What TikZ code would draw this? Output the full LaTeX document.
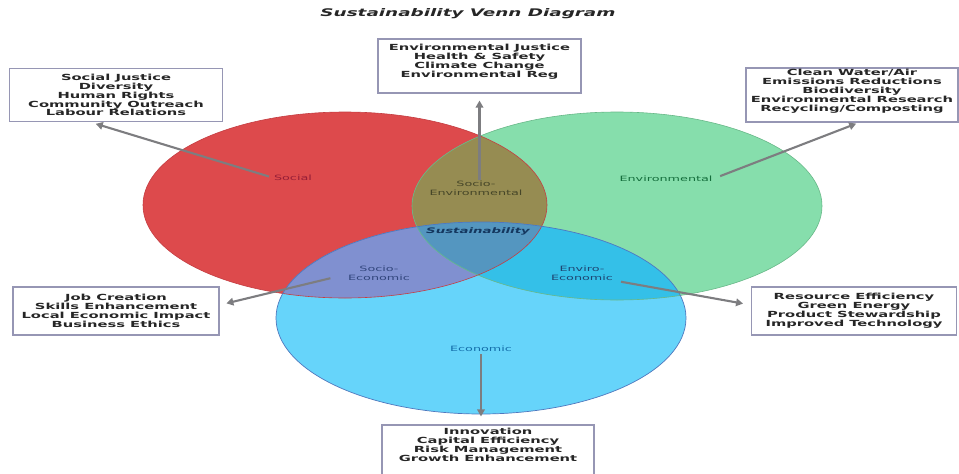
\documentclass[tikz,border=0pt]{standalone}
\usepackage{fontspec}
\setmainfont{DejaVu Sans}[FakeStretch=1.75]
\usetikzlibrary{arrows.meta}
\definecolor{cR}{RGB}{221,74,76}
\definecolor{cG}{RGB}{134,222,172}
\definecolor{cB}{RGB}{102,212,250}
\definecolor{cRG}{RGB}{150,140,82}
\definecolor{cRB}{RGB}{128,144,208}
\definecolor{cGB}{RGB}{52,192,232}
\definecolor{cRGB}{RGB}{84,150,192}
\definecolor{oR}{RGB}{196,62,66}
\definecolor{oG}{RGB}{104,184,136}
\definecolor{oB}{RGB}{80,120,190}
\definecolor{boxline}{RGB}{150,150,180}
\definecolor{arrowgray}{RGB}{125,125,128}
\definecolor{tSocial}{RGB}{150,30,55}
\definecolor{tSocEnv}{RGB}{70,70,40}
\definecolor{tEnv}{RGB}{20,110,60}
\definecolor{tSust}{RGB}{20,55,95}
\definecolor{tSocEco}{RGB}{50,70,125}
\definecolor{tEnvEco}{RGB}{30,70,115}
\definecolor{tEco}{RGB}{20,110,170}
\def\pathR{(345,205) ellipse [x radius=202pt, y radius=93pt]}
\def\pathG{(617,206) ellipse [x radius=205pt, y radius=94pt]}
\def\pathB{(481,318) ellipse [x radius=205pt, y radius=96pt]}
\begin{document}
\begin{tikzpicture}[x=1pt,y=-1pt,
  infobox/.style={draw=boxline, line width=1.1pt, fill=white, inner sep=0pt},
  infotext/.style={align=center, inner sep=0pt, font=\bfseries\fontsize{8.4}{8.9}\selectfont, text=black!85},
  vlabel/.style={align=center, inner sep=0pt, font=\fontsize{7.3}{8.6}\selectfont},
  arr/.style={draw=arrowgray, line width=2.1pt, -{Triangle[length=7pt,width=7.5pt]}}]
\useasboundingbox (0,0) rectangle (959,474);
% fills
\fill[cR] \pathR;
\fill[cG] \pathG;
\fill[cB] \pathB;
\begin{scope}\clip \pathR; \fill[cRG] \pathG; \fill[cRB] \pathB; \end{scope}
\begin{scope}\clip \pathG; \fill[cGB] \pathB; \end{scope}
\begin{scope}\clip \pathR; \clip \pathG; \fill[cRGB] \pathB; \end{scope}
\draw[oR, line width=0.6pt] \pathR;
\draw[oG, line width=0.6pt] \pathG;
\draw[oB, line width=0.7pt] \pathB;
% title
\node[inner sep=0pt, font=\bfseries\itshape\fontsize{10.5}{12}\selectfont, text=black!85] (title) at (468,14) {Sustainability Venn Diagram};
% labels
\node[vlabel, text=tSocial] (lsocial) at (293,178) {Social};
\node[vlabel, text=tSocEnv] (lsocenv) at (476,188) {Socio-\\Environmental};
\node[vlabel, text=tEnv] (lenv) at (666,179) {Environmental};
\node[vlabel, text=tSust, font=\bfseries\itshape\fontsize{7.6}{8.6}\selectfont] (lsust) at (478,231) {Sustainability};
\node[vlabel, text=tSocEco] (lsocecon) at (379,273) {Socio-\\Economic};
\node[vlabel, text=tEnvEco] (lenveco) at (582,273) {Enviro-\\Economic};
\node[vlabel, text=tEco] (lecon) at (481,349) {Economic};
% boxes
\node[infobox, minimum width=213pt, minimum height=53pt] (bsocial) at (116,95) {};
\node[infotext] (tsocial) at (116,95) {Social Justice\\Diversity\\Human Rights\\Community Outreach\\Labour Relations};
\node[infobox, minimum width=203pt, minimum height=54pt] (benv) at (479.5,66) {};
\node[infotext] (tenv) at (479.5,62) {Environmental Justice\\Health \& Safety\\Climate Change\\Environmental Reg};
\node[infobox, minimum width=212pt, minimum height=54pt] (bclean) at (852,95) {};
\node[infotext] (tclean) at (852,91) {Clean Water/Air\\Emissions Reductions\\Biodiversity\\Environmental Research\\Recycling/Composting};
\node[infobox, minimum width=206pt, minimum height=48pt] (bjob) at (116,311) {};
\node[infotext] (tjob) at (116,311) {Job Creation\\Skills Enhancement\\Local Economic Impact\\Business Ethics};
\node[infobox, minimum width=205pt, minimum height=48pt] (bres) at (854,311) {};
\node[infotext] (tres) at (854,311) {Resource Efficiency\\Green Energy\\Product Stewardship\\Improved Technology};
\node[infobox, minimum width=212pt, minimum height=60pt] (binno) at (488,455) {};
\node[infotext] (tinno) at (488,445) {Innovation\\Capital Efficiency\\Risk Management\\Growth Enhancement};
% arrows
\draw[arr, shorten <=5pt, shorten >=6pt] (lsocial.west) -- ([xshift=-26pt]bsocial.south);
\draw[arr, shorten <=1pt, shorten >=7pt] (benv.south |- lsocenv.north) -- (benv.south);
\draw[arr, shorten <=8pt, shorten >=3pt] (lenv.east) -- ([xshift=7pt]bclean.south);
\draw[arr, shorten <=18pt, shorten >=7pt] ([yshift=-1pt]lsocecon.west) -- ([yshift=6pt]bjob.east);
\draw[arr, shorten <=8pt, shorten >=8pt] (lenveco.south east) -- ([yshift=6pt]bres.west);
\draw[arr, shorten <=2pt, shorten >=8pt] (lecon.south) -- (lecon.south |- binno.north);
\end{tikzpicture}
\end{document}
